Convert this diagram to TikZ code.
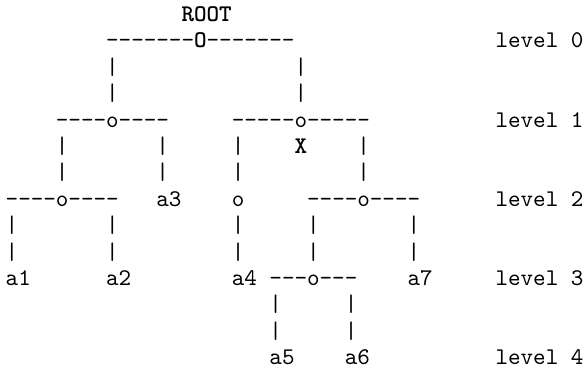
\documentclass[tikz,border=0pt]{standalone}
\begin{document}
\begin{tikzpicture}[x=0.41806pt, y=-0.41806pt,
  tt/.style={anchor=base west, inner sep=0pt, outer sep=0pt, font=\fontsize{10}{12}\selectfont\ttfamily},
  ttb/.style={tt, font=\fontsize{10}{12}\selectfont\ttfamily\bfseries}]
\useasboundingbox (0,0) rectangle (584,371);
\newcommand\cell[2]{({5.7+#1*12.56},{21.5+26.4*#2})}
% row 0
\node[ttb] (root) at \cell{14}{0} {ROOT};
% row 1
\node[tt] (l0bar) at \cell{8}{1} {-{}-{}-{}-{}-{}-{}-\textbf{O}-{}-{}-{}-{}-{}-{}-};
\node[tt] (lev0) at \cell{39}{1} {level 0};
% rows 2-3
\node[tt] (p2a) at \cell{8}{2} {|};
\node[tt] (p2b) at \cell{23}{2} {|};
\node[tt] (p3a) at \cell{8}{3} {|};
\node[tt] (p3b) at \cell{23}{3} {|};
% row 4
\node[tt] (l1left) at \cell{4}{4} {-{}-{}-{}-o-{}-{}-{}-};
\node[tt] (l1right) at \cell{18}{4} {-{}-{}-{}-{}-o-{}-{}-{}-{}-};
\node[tt] (lev1) at \cell{39}{4} {level 1};
% row 5
\node[tt] (p5a) at \cell{4}{5} {|};
\node[tt] (p5b) at \cell{12}{5} {|};
\node[tt] (p5c) at \cell{18}{5} {|};
\node[ttb] (xmark) at \cell{23}{5} {X};
\node[tt] (p5d) at \cell{28}{5} {|};
% row 6
\node[tt] (p6a) at \cell{4}{6} {|};
\node[tt] (p6b) at \cell{12}{6} {|};
\node[tt] (p6c) at \cell{18}{6} {|};
\node[tt] (p6d) at \cell{28}{6} {|};
% row 7
\node[tt] (l2left) at \cell{0}{7} {-{}-{}-{}-o-{}-{}-{}-};
\node[tt] (a3) at \cell{12}{7} {a3};
\node[tt] (o18) at \cell{18}{7} {o};
\node[tt] (l2right) at \cell{24}{7} {-{}-{}-{}-o-{}-{}-{}-};
\node[tt] (lev2) at \cell{39}{7} {level 2};
% rows 8-9
\node[tt] (p8a) at \cell{0}{8} {|};
\node[tt] (p8b) at \cell{8}{8} {|};
\node[tt] (p8c) at \cell{18}{8} {|};
\node[tt] (p8d) at \cell{24}{8} {|};
\node[tt] (p8e) at \cell{32}{8} {|};
\node[tt] (p9a) at \cell{0}{9} {|};
\node[tt] (p9b) at \cell{8}{9} {|};
\node[tt] (p9c) at \cell{18}{9} {|};
\node[tt] (p9d) at \cell{24}{9} {|};
\node[tt] (p9e) at \cell{32}{9} {|};
% row 10
\node[tt] (a1) at \cell{0}{10} {a1};
\node[tt] (a2) at \cell{8}{10} {a2};
\node[tt] (a4) at \cell{18}{10} {a4};
\node[tt] (l3mid) at \cell{21}{10} {-{}-{}-o-{}-{}-};
\node[tt] (a7) at \cell{32}{10} {a7};
\node[tt] (lev3) at \cell{39}{10} {level 3};
% rows 11-12
\node[tt] (p11a) at \cell{21}{11} {|};
\node[tt] (p11b) at \cell{27}{11} {|};
\node[tt] (p12a) at \cell{21}{12} {|};
\node[tt] (p12b) at \cell{27}{12} {|};
% row 13
\node[tt] (a5) at \cell{21}{13} {a5};
\node[tt] (a6) at \cell{27}{13} {a6};
\node[tt] (lev4) at \cell{39}{13} {level 4};
\end{tikzpicture}
\end{document}
